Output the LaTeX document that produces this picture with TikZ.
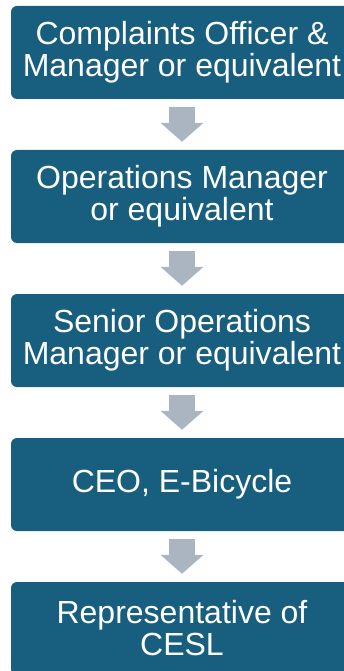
\documentclass[tikz,border=0pt]{standalone}
\usepackage{fontspec}
\setmainfont{Liberation Sans}
\usetikzlibrary{arrows.meta}
\definecolor{boxblue}{HTML}{175E7F}
\definecolor{arrowgrey}{HTML}{AAB5C1}
\begin{document}
\begin{tikzpicture}[x=1pt,y=1pt,
  stepbox/.style={rectangle, rounded corners=6pt, fill=boxblue, text=white,
    minimum width=342pt, minimum height=93pt, inner sep=0pt, align=center,
    font=\fontsize{32}{32}\selectfont},
  blockarrow/.style={draw=arrowgrey, line width=26pt,
    -{Triangle[width=42pt,length=19pt]}}]
\useasboundingbox (0,0) rectangle (344,-671);
\clip (0,0) rectangle (344,-671);
\node[stepbox] (b1) at (182,-52.5) {Complaints Officer \&\\Manager or equivalent};
\node[stepbox] (b2) at (182,-196.5) {Operations Manager\\or equivalent};
\node[stepbox] (b3) at (182,-340.5) {Senior Operations\\Manager or equivalent};
\node[stepbox] (b4) at (182,-484.5) {CEO, E-Bicycle};
\node[stepbox] (b5) at (182,-628.5) {Representative of\\CESL};
\draw[blockarrow] ([yshift=-7.5pt]b1.south) -- ([yshift=8pt]b2.north);
\draw[blockarrow] ([yshift=-7.5pt]b2.south) -- ([yshift=8pt]b3.north);
\draw[blockarrow] ([yshift=-7.5pt]b3.south) -- ([yshift=8pt]b4.north);
\draw[blockarrow] ([yshift=-7.5pt]b4.south) -- ([yshift=8pt]b5.north);
\end{tikzpicture}
\end{document}
